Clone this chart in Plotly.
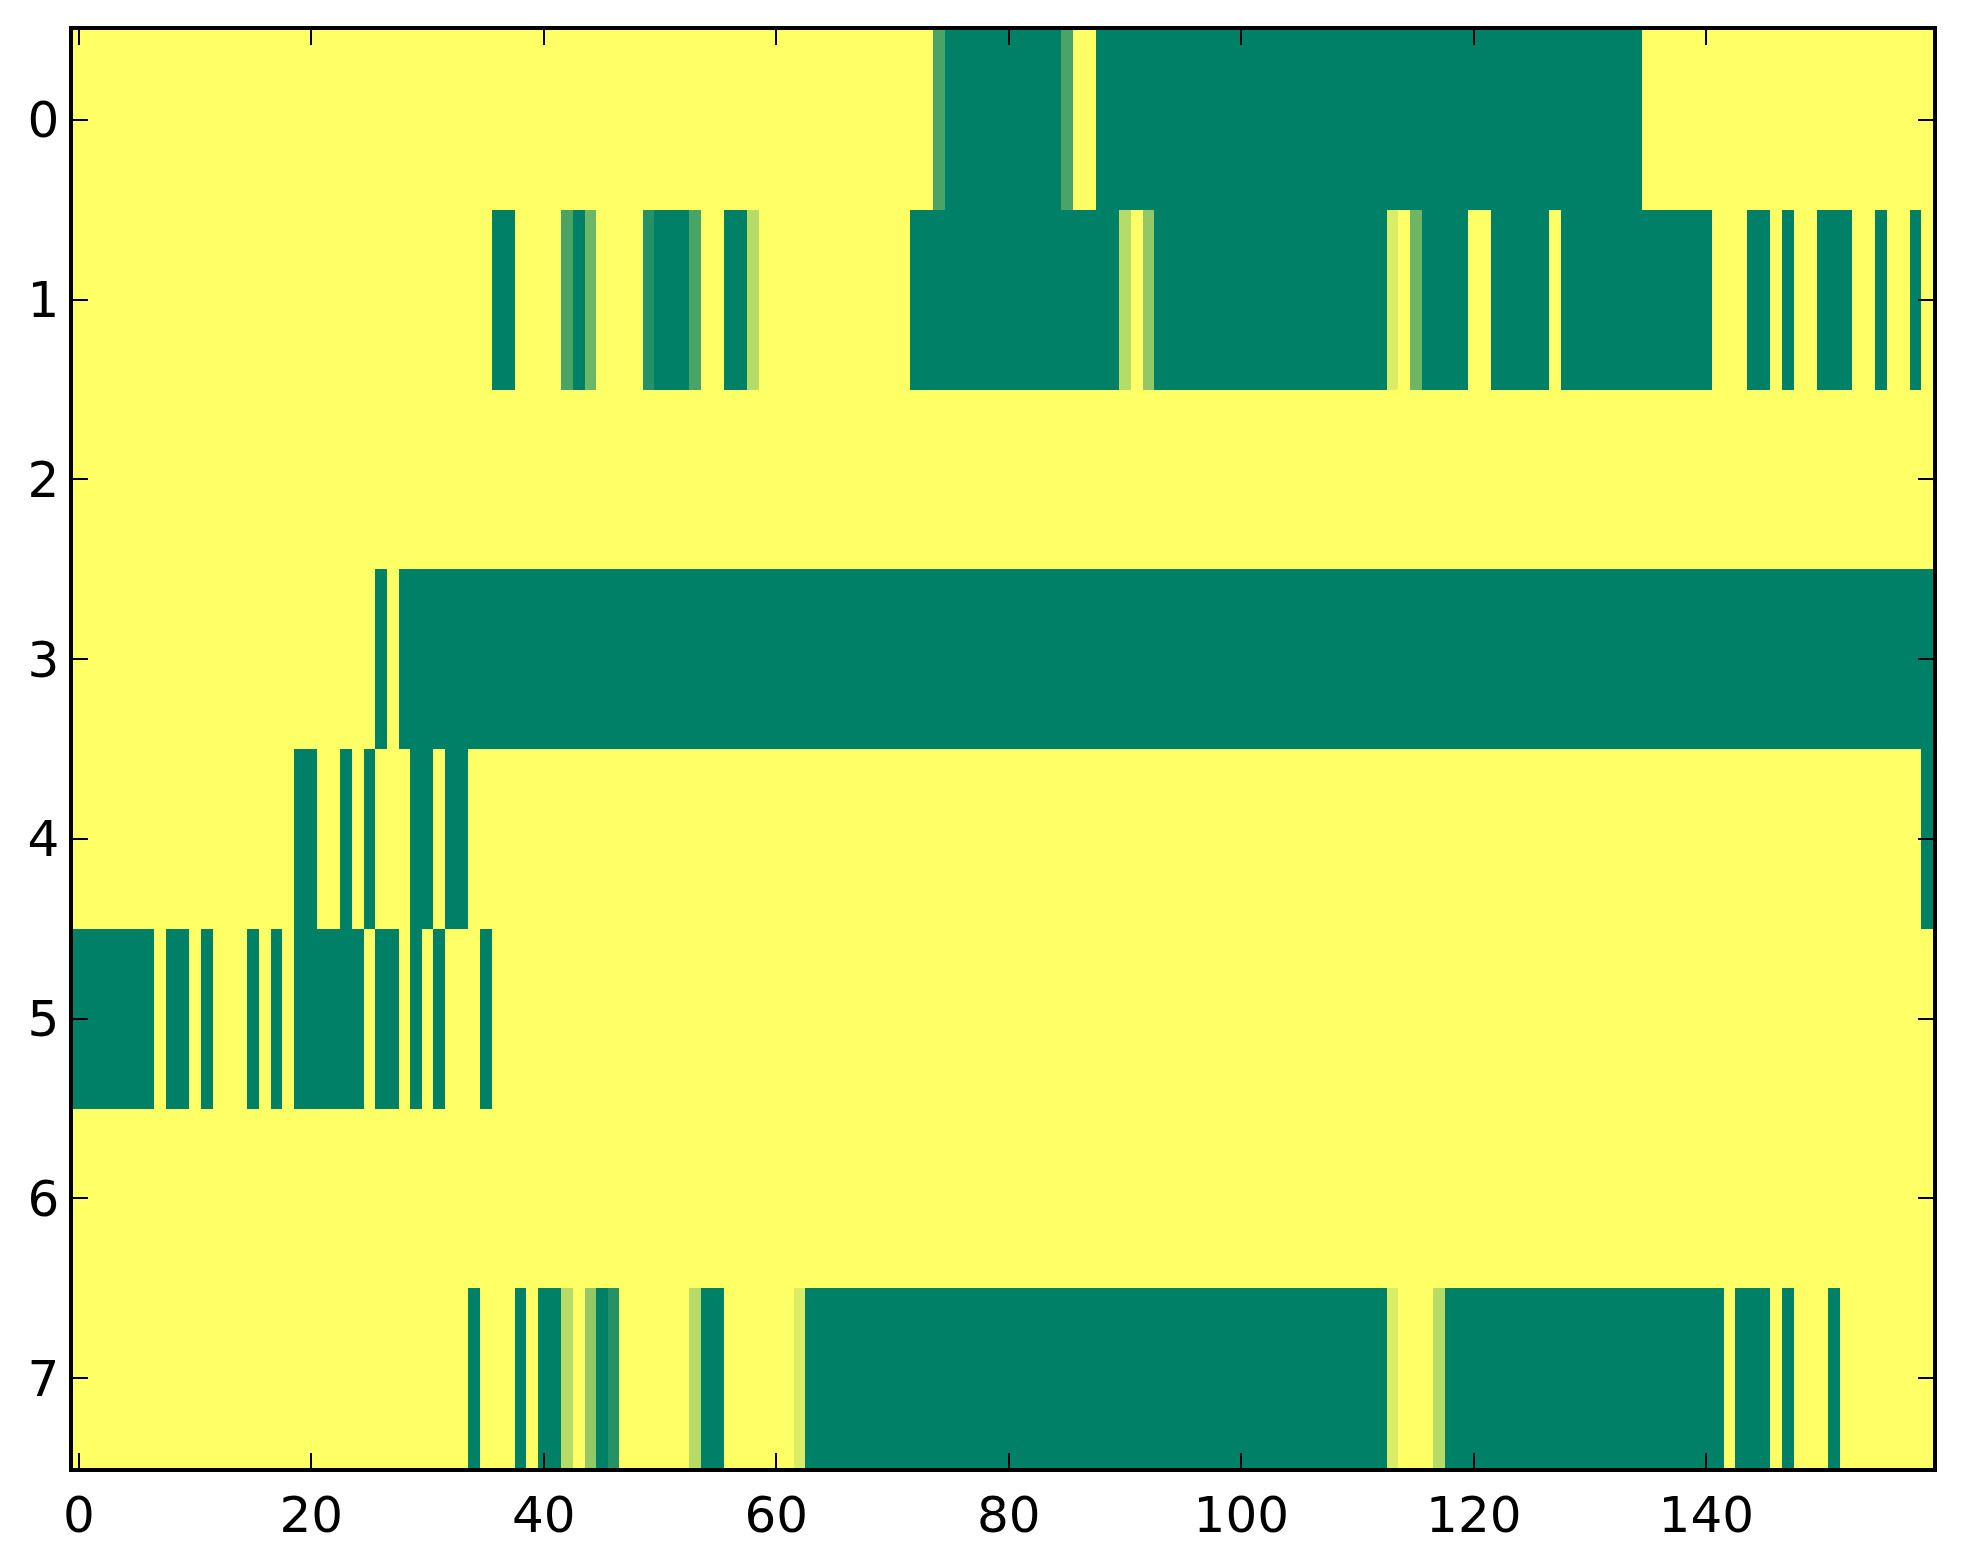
import plotly.graph_objects as go

# each character is one cell, value = digit / 7 (0 = dark green, 7 = yellow)
row_0 = ("77777777777777777777" "77777777777777777777" "77777777777777777777" "77777777777777200000"
         "00000277000000000000" "00000000000000000000" "00000000000000077777" "77777777777777777777")
row_1 = ("77777777777777777777" "77777777777777770077" "77203777710002770057" "77777777777700000000"
         "00000000005740000000" "00000000000006730000" "77000007000000000000" "07770070770007707707")
row_2 = ("77777777777777777777" "77777777777777777777" "77777777777777777777" "77777777777777777777"
         "77777777777777777777" "77777777777777777777" "77777777777777777777" "77777777777777777777")
row_3 = ("77777777777777777777" "77777707000000000000" "00000000000000000000" "00000000000000000000"
         "00000000000000000000" "00000000000000000000" "00000000000000000000" "00000000000000000000")
row_4 = ("77777777777777777770" "07707077700700777777" "77777777777777777777" "77777777777777777777"
         "77777777777777777777" "77777777777777777777" "77777777777777777777" "77777777777777777770")
row_5 = ("00000007007077707070" "00000700707077707777" "77777777777777777777" "77777777777777777777"
         "77777777777777777777" "77777777777777777777" "77777777777777777777" "77777777777777777777")
row_6 = ("77777777777777777777" "77777777777777777777" "77777777777777777777" "77777777777777777777"
         "77777777777777777777" "77777777777777777777" "77777777777777777777" "77777777777777777777")
row_7 = ("77777777777777777777" "77777777777777077707" "00574017777775007777" "77600000000000000000"
         "00000000000000000000" "00000000000006777500" "00000000000000000000" "00700070777077777777")

rows = [row_0, row_1, row_2, row_3, row_4, row_5, row_6, row_7]
x_ticks = [0, 20, 40, 60, 80, 100, 120, 140]
y_ticks = [0, 1, 2, 3, 4, 5, 6, 7]

z = [[int(ch) / 7 for ch in r] for r in rows]
n_cols = len(row_0)

# matplotlib "summer" colormap
summer = [[0, "#008066"], [1, "#ffff66"]]

fig = go.Figure(go.Heatmap(
    z=z,
    x=list(range(n_cols)),
    y=list(range(len(rows))),
    colorscale=summer,
    zmin=0, zmax=1,
    showscale=False,
))

axis_style = dict(
    showline=True, linecolor="black", linewidth=3.5, mirror="ticks",
    ticks="inside", ticklen=15, tickwidth=2, tickcolor="black",
    showgrid=False, zeroline=False,
    tickfont=dict(family="DejaVu Sans", size=50, color="black"),
)

fig.update_xaxes(range=[-0.5, n_cols - 0.5], tickvals=x_ticks, **axis_style)
fig.update_yaxes(range=[len(rows) - 0.5, -0.5], tickvals=y_ticks, ticklabelstandoff=0, **axis_style)

# page body adds 8px, margins compensate
fig.update_layout(
    width=1963, height=1564,
    margin=dict(l=65, r=38, t=22, b=104),
    paper_bgcolor="white", plot_bgcolor="white",
)

fig.write_html("out.html")
